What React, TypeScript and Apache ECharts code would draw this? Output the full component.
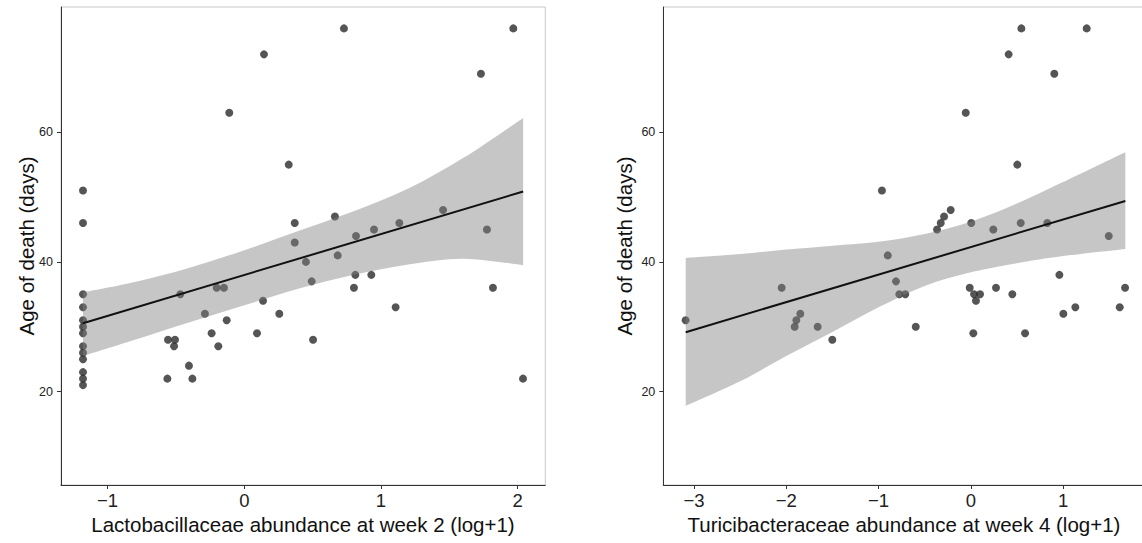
import React, { useEffect, useRef } from "react";
import * as echarts from "echarts";

// ---- Left panel data (Lactobacillaceae, week 2) ----
const leftX = [
  -1.18, -1.18, -1.18, -1.18, -1.18, -1.18, -1.18, -1.18, -1.18, -1.18, -1.18, -1.18, -1.18,
  -0.558, -0.507, -0.514, -0.563, -0.468, -0.405, -0.38, -0.288, -0.239, -0.202, -0.19, -0.149,
  -0.129, -0.11, 0.093, 0.137, 0.144, 0.256, 0.325, 0.369, 0.369, 0.451, 0.493, 0.503, 0.663,
  0.683, 0.729, 0.802, 0.812, 0.817, 0.929, 0.949, 1.107, 1.134, 1.454, 1.731, 1.775, 1.819,
  1.968, 2.039,
];
const leftY = [
  51, 46, 35, 33, 31, 30, 29, 27, 26, 25, 23, 22, 21,
  28, 28, 27, 22, 35, 24, 22, 32, 29, 36, 27, 36,
  31, 63, 29, 34, 72, 32, 55, 46, 43, 40, 37, 28, 47,
  41, 76, 36, 38, 44, 38, 45, 33, 46, 48, 69, 45, 36,
  76, 22,
];
const leftLineX = [-1.18, 2.04];
const leftLineY = [30.55, 50.85];
const leftBandX = [-1.18, -0.8, -0.4, 0, 0.4, 0.8, 1.2, 1.6, 2.04];
const leftBandUpper = [35.3, 36.9, 39.1, 41.8, 44.8, 47.8, 51.3, 56.0, 62.2];
const leftBandLower = [25.5, 28.0, 30.7, 33.3, 35.9, 38.0, 39.6, 40.5, 39.5];
const leftTicks = [-1, 0, 1, 2];

// ---- Right panel data (Turicibacteraceae, week 4) ----
const rightX = [
  -3.091, -2.05, -1.909, -1.891, -1.848, -1.66, -1.501, -0.963, -0.9, -0.811, -0.775, -0.71,
  -0.597, -0.366, -0.326, -0.29, -0.218, -0.055, -0.012, 0.005, 0.027, 0.035, 0.056, 0.1,
  0.244, 0.273, 0.41, 0.45, 0.504, 0.541, 0.548, 0.588, 0.829, 0.905, 0.96, 1.003, 1.133,
  1.256, 1.495, 1.614, 1.672,
];
const rightY = [
  31, 36, 30, 31, 32, 30, 28, 51, 41, 37, 35, 35,
  30, 45, 46, 47, 48, 63, 36, 46, 29, 35, 34, 35,
  45, 36, 72, 35, 55, 46, 76, 29, 46, 69, 38, 32, 33,
  76, 44, 33, 36,
];
const rightLineX = [-3.09, 1.675];
const rightLineY = [29.16, 49.4];
const rightBandX = [-3.09, -2.5, -2, -1.5, -1, -0.5, 0, 0.5, 1.0, 1.675];
const rightBandUpper = [40.6, 41.2, 41.9, 42.5, 43.1, 44.3, 46.2, 49.0, 52.3, 56.9];
const rightBandLower = [17.8, 21.6, 25.5, 29.2, 33.0, 36.3, 38.4, 39.8, 40.9, 42.0];
const rightTicks = [-3, -2, -1, 0, 1];

const yTicks = [20, 40, 60];
const yTitle = "Age of death (days)";
const leftXTitle = "Lactobacillaceae abundance at week 2 (log+1)";
const rightXTitle = "Turicibacteraceae abundance at week 4 (log+1)";

const FONT = "'Liberation Sans', Arial, Helvetica, sans-serif";

function zip(a: number[], b: number[]) {
  return a.map((v, i) => [v, b[i]]);
}

function fmtX(v: number) {
  return v < 0 ? "\u2212" + Math.abs(v) : String(v);
}

// Catmull-Rom smoothed path segment through pixel points (continues an open path)
function smoothSeg(p: number[][]): string {
  let d = "";
  for (let i = 0; i < p.length - 1; i++) {
    const p0 = p[Math.max(0, i - 1)];
    const p1 = p[i];
    const p2 = p[i + 1];
    const p3 = p[Math.min(p.length - 1, i + 2)];
    const c1x = p1[0] + (p2[0] - p0[0]) / 6;
    const c1y = p1[1] + (p2[1] - p0[1]) / 6;
    const c2x = p2[0] - (p3[0] - p1[0]) / 6;
    const c2y = p2[1] - (p3[1] - p1[1]) / 6;
    d += ` C ${c1x} ${c1y} ${c2x} ${c2y} ${p2[0]} ${p2[1]}`;
  }
  return d;
}

export default function App() {
  const ref = useRef<HTMLDivElement>(null);
  useEffect(() => {
    if (!ref.current) return;
    const chart = echarts.init(ref.current, undefined, { renderer: "svg" });

    const mkX = (idx: number, min: number, max: number, ticks: number[]) => ({
      type: "value",
      gridIndex: idx,
      min,
      max,
      splitLine: { show: false },
      axisLine: { show: true, onZero: false, lineStyle: { color: "#333", width: 1 } },
      axisTick: { show: true, length: 4, customValues: ticks, lineStyle: { color: "#333" } },
      axisLabel: {
        customValues: ticks,
        formatter: fmtX,
        fontSize: 18.5,
        color: "#222",
        fontFamily: FONT,
        margin: 6,
      },
    });
    const mkY = (idx: number) => ({
      type: "value",
      gridIndex: idx,
      min: 5.6,
      max: 79.3,
      splitLine: { show: false },
      axisLine: { show: true, onZero: false, lineStyle: { color: "#333", width: 1 } },
      axisTick: { show: true, length: 4, customValues: yTicks, lineStyle: { color: "#333" } },
      axisLabel: {
        customValues: yTicks,
        fontSize: 12.5,
        color: "#222",
        fontFamily: FONT,
        margin: 8,
      },
    });

    const band = (bx: number[], bu: number[], bl: number[], xi: number) => ({
      type: "custom",
      xAxisIndex: xi,
      yAxisIndex: xi,
      z: 3,
      silent: true,
      data: [[bx[0], bl[0]]],
      renderItem: (_p: any, api: any) => {
        const up = bx.map((x, i) => api.coord([x, bu[i]]));
        const lo = bx.map((x, i) => api.coord([x, bl[i]])).reverse();
        const d =
          `M ${up[0][0]} ${up[0][1]}` +
          smoothSeg(up) +
          ` L ${lo[0][0]} ${lo[0][1]}` +
          smoothSeg(lo) +
          " Z";
        return {
          type: "path",
          shape: { pathData: d },
          style: { fill: "rgba(128,128,128,0.45)", stroke: "none" },
        };
      },
    });

    const scatter = (xs: number[], ys: number[], xi: number) => ({
      type: "scatter",
      xAxisIndex: xi,
      yAxisIndex: xi,
      z: 2,
      silent: true,
      symbolSize: 8,
      itemStyle: { color: "#2b2b2b" },
      data: zip(xs, ys),
    });

    const fit = (xs: number[], ys: number[], xi: number) => ({
      type: "line",
      xAxisIndex: xi,
      yAxisIndex: xi,
      z: 4,
      silent: true,
      symbol: "none",
      lineStyle: { color: "#111", width: 2 },
      data: zip(xs, ys),
    });

    chart.setOption({
      animation: false,
      grid: [
        {
          left: 61, top: 7, width: 484.3, height: 478,
          show: true, borderColor: "#c8c8c8", borderWidth: 1,
          outerBoundsMode: "none", containLabel: false,
        },
        {
          left: 663.3, top: 7, width: 481.7, height: 478,
          show: true, borderColor: "#c8c8c8", borderWidth: 1,
          outerBoundsMode: "none", containLabel: false,
        },
      ],
      xAxis: [mkX(0, -1.341, 2.202, leftTicks), mkX(1, -3.333, 1.888, rightTicks)],
      yAxis: [mkY(0), mkY(1)],
      series: [
        scatter(leftX, leftY, 0),
        band(leftBandX, leftBandUpper, leftBandLower, 0),
        fit(leftLineX, leftLineY, 0),
        scatter(rightX, rightY, 1),
        band(rightBandX, rightBandUpper, rightBandLower, 1),
        fit(rightLineX, rightLineY, 1),
      ],
      graphic: [
        {
          type: "text", x: 26, y: 246, rotation: Math.PI / 2,
          style: { text: yTitle, font: `20.5px ${FONT}`, fill: "#111", align: "center", verticalAlign: "middle" },
        },
        {
          type: "text", x: 624, y: 246, rotation: Math.PI / 2,
          style: { text: yTitle, font: `20.5px ${FONT}`, fill: "#111", align: "center", verticalAlign: "middle" },
        },
        {
          type: "text", x: 303, y: 524,
          style: { text: leftXTitle, font: `20.5px ${FONT}`, fill: "#111", align: "center", verticalAlign: "middle" },
        },
        {
          type: "text", x: 904, y: 524,
          style: { text: rightXTitle, font: `20.5px ${FONT}`, fill: "#111", align: "center", verticalAlign: "middle" },
        },
      ],
    });
    return () => chart.dispose();
  }, []);
  return (
    <div
      ref={ref}
      style={{ position: "fixed", left: 0, top: 0, width: 1142, height: 543, background: "#fff" }}
    />
  );
}
